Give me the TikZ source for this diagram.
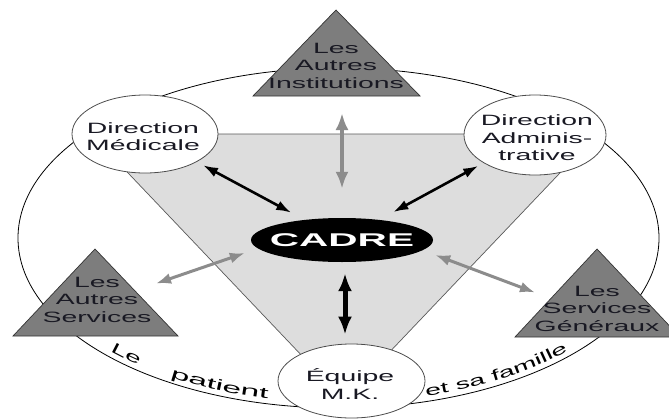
\documentclass[tikz,border=0pt]{standalone}
\usepackage{fontspec}
\setmainfont{Liberation Sans}
\newfontfamily\widefont[FakeStretch=1.9]{Liberation Sans}
\newfontfamily\widerfont[FakeStretch=2.25]{Liberation Sans}
\newfontfamily\cadrefont[FakeStretch=2.2]{Liberation Sans}
\usetikzlibrary{arrows.meta,shapes.geometric,decorations.text}
\newcommand\lbltxt{\widefont\fontsize{15}{17.5}\selectfont}
\definecolor{trifill}{RGB}{221,221,221}
\definecolor{darktri}{RGB}{125,125,125}
\definecolor{arrgray}{RGB}{140,140,140}
\definecolor{txtdark}{RGB}{25,25,35}
\begin{document}
\begin{tikzpicture}[x=1bp,y=1bp,
  oval/.style={ellipse, draw=black!70, fill=white, line width=0.8bp, inner sep=0pt},
  lbl/.style={align=center, inner sep=0pt, font=\lbltxt, text=txtdark},
  tri/.style={fill=darktri, draw=black!80, line width=0.7bp},
  blackarr/.style={draw=black, line width=2.6bp, {Latex[length=15bp,width=10bp]}-{Latex[length=15bp,width=10bp]}},
  bigarr/.style={draw=black, line width=5bp, {Latex[length=18bp,width=14bp]}-{Latex[length=18bp,width=14bp]}},
  grayarr/.style={draw=arrgray, line width=3bp, {Latex[length=15bp,width=11bp]}-{Latex[length=15bp,width=11bp]}},
  vgrayarr/.style={draw=arrgray, line width=3.8bp, {Latex[length=17bp,width=13bp]}-{Latex[length=17bp,width=13bp]}},
  curvtxt/.style={decorate, decoration={text along path, text align=left, raise=5bp, text={#1}}}
]
\clip (0,0) rectangle (669,419);
\fill[white] (0,0) rectangle (669,419);
% outer ellipse
\draw[line width=0.8bp] (338.5,181) ellipse [x radius=320.5, y radius=170];
% inner light triangle
\draw[fill=trifill, draw=black!65, line width=0.7bp] (91,285) -- (597,285) -- (344,19) -- cycle;
% ovals
\node[oval, minimum width=146bp, minimum height=78bp] (dm) at (145,285) {};
\node[oval, minimum width=142bp, minimum height=80bp] (da) at (535,284) {};
\node[oval, minimum width=147bp, minimum height=74bp] (eq) at (351.5,38) {};
\node[lbl] (dmtxt) at (143,282.5) {Direction\\Médicale};
\node[lbl] (datxt) at (537,281) {Direction\\Adminis-\\trative};
\node[lbl] (eqtxt) at (350,35.2) {Équipe\\M.K.};
% dark triangles
\coordinate (insttri) at (336,323);
\path[tri] (253,323) -- (420,323) -- (336,409) -- cycle;
\node[lbl] (inst) at (336,353.5) {Les\\Autres\\Institutions};
\path[tri] (13,83) -- (178,83) -- (95,170) -- cycle;
\node[lbl] (lserv) at (97,119.5) {Les\\Autres\\Services};
\path[tri] (515,82) -- (680,82) -- (597,170) -- cycle;
\node[lbl] (rserv) at (597,110.5) {Les\\Services\\Généraux};
% CADRE
\node[ellipse, fill=black, minimum width=182bp, minimum height=44bp, inner sep=0pt,
  text=white, font=\cadrefont\bfseries\fontsize{18.5}{20}\selectfont] (cadre) at (342,179) {\makebox[0pt]{CADRE}};
% arrows
\draw[blackarr, shorten <=7bp, shorten >=15bp] (dm) -- (cadre);
\draw[blackarr, shorten <=6bp, shorten >=16bp] (da) -- (cadre);
\draw[bigarr, shorten <=11bp, shorten >=9bp] ([xshift=3bp]cadre.south) -- ([xshift=3bp]cadre.south |- eq.north);
\draw[vgrayarr, shorten <=29bp, shorten >=17bp] (cadre.north) -- (cadre.north |- insttri);
\draw[grayarr] ([shift={(-6,-13)}]cadre.west) -- ([shift={(59,16)}]lserv.center);
\draw[grayarr] ([shift={(2,-15)}]cadre.east) -- ([shift={(-62,16)}]rserv.center);
% text along the outer ellipse
\path[curvtxt={|\widefont\fontsize{15}{17}\selectfont|Le}] (338.5,181) ++(224:320.5 and 170) arc[start angle=224, end angle=236, x radius=320.5, y radius=170];
\path[curvtxt={|\widerfont\fontsize{15}{17}\selectfont|patient}] (338.5,181) ++(238:320.5 and 170) arc[start angle=238, end angle=262, x radius=320.5, y radius=170];
\path[curvtxt={|\widefont\fontsize{15}{17}\selectfont|et sa famille}] (338.5,181) ++(286:320.5 and 170) arc[start angle=286, end angle=324, x radius=320.5, y radius=170];
\end{tikzpicture}
\end{document}
